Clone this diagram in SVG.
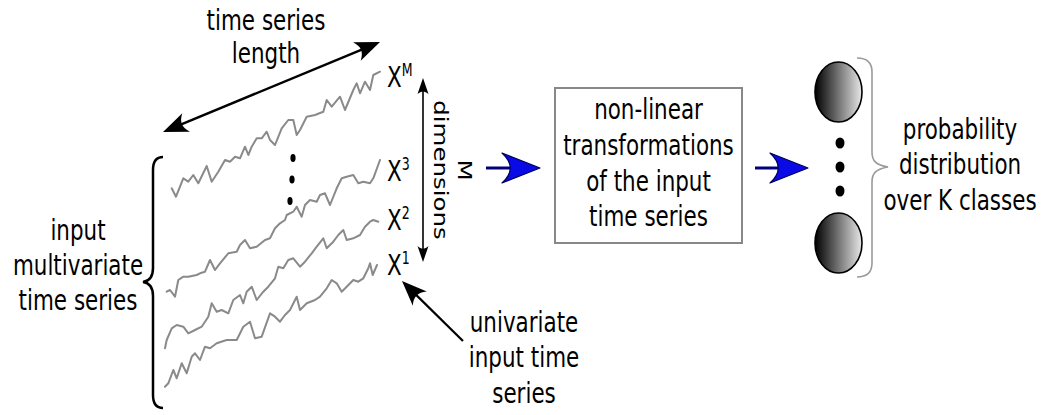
<svg xmlns="http://www.w3.org/2000/svg" width="1044" height="415" viewBox="0 0 1044 415">
<style>
.t{font-family:"DejaVu Sans","Noto Sans",sans-serif;font-size:29px;fill:#000;text-anchor:middle}
.xl{font-family:"DejaVu Sans","Noto Sans",sans-serif;font-size:29px;fill:#000}
.sup{font-size:17px}
.rt{font-family:"DejaVu Sans","Noto Sans",sans-serif;font-size:24.5px;fill:#000;text-anchor:middle}
.ser{fill:none;stroke:#8a8a8a;stroke-width:2;stroke-linejoin:round;stroke-linecap:round}
.blk{fill:none;stroke:#000;stroke-width:2.5}
.blue{fill:none;stroke:#00007a;stroke-width:3}
</style>
<defs>
<marker id="ah" markerUnits="userSpaceOnUse" orient="auto-start-reverse" overflow="visible" refX="0" refY="0" markerWidth="1" markerHeight="1">
<path d="M8,0 L-17,-10 C-11,-3 -11,3 -17,10 Z" fill="#000"/>
</marker>
<marker id="ahs" markerUnits="userSpaceOnUse" orient="auto-start-reverse" overflow="visible" refX="0" refY="0" markerWidth="1" markerHeight="1">
<path d="M5,0 L-11,-5.5 C-7.5,-1.5 -7.5,1.5 -11,5.5 Z" fill="#000"/>
</marker>
<marker id="bh" markerUnits="userSpaceOnUse" orient="auto" overflow="visible" refX="0" refY="0" markerWidth="1" markerHeight="1">
<path d="M10,0 L-28,-15 C-17,-5 -17,5 -28,15 Z" fill="#0a0ae6" stroke="#00005a" stroke-width="1.2" stroke-linejoin="round"/>
</marker>
<linearGradient id="g" x1="0" y1="0" x2="1" y2="0">
<stop offset="0" stop-color="#000"/>
<stop offset="1" stop-color="#e8e8e8"/>
</linearGradient>
</defs>

<g id="input-series">
<polyline class="ser" points="171.7,188.3 176,196.7 183.3,178.3 188.3,181.7 193.3,175 198.3,183.3 206.7,166 211.7,181.7 218.3,171.7 225,160 230,161.7 235,156.7 240,158.3 245,146.7 248.3,155 251.7,146.7 256.7,138.3 261.7,138.3 266.7,131.7 270,140 275,145 281.7,128.3 288.3,120 293.3,120 296.7,135 300,130 306.7,116.7 315,115 323.3,111.7 326.7,100 331.7,106.7 340,96.7 345,110 353.3,90 356.7,83.3 360,93.3 365,81.7 370,90 373.3,75 380,71.7"/>
<polyline class="ser" points="166.7,291.7 170,290 175,296.7 178.3,280 183.3,276.7 188.3,276.7 196.7,275 200,273.3 205,271.7 210,260 215,270 220,263.3 228.3,253.3 236.7,251.7 240,245 245,240 250,248.3 256.7,246.7 265,240 270,238.3 275,228.3 280,223.3 285,220 286.7,215 293.3,211.7 296.7,206.7 301.7,216.7 305,205 310,200 316.7,201.7 320,195 325,193.3 330,205 336.7,188.3 341.7,178.3 346.7,176.7 353.3,175 358.3,183.3 363.3,181.7 370,183.3 373.3,178.3 380,160"/>
<polyline class="ser" points="165,348.3 166.7,340 171.7,328.3 176.7,325 183.3,326.7 188.3,333.3 195,330 201.7,326.7 208.3,316.7 211.7,303.3 216.7,311.7 221.7,310 228.3,313.3 233.3,300 240,295 243.3,303.3 246.7,291.7 251.7,286.7 256.7,300 263.3,291.7 268.3,286.7 275,278.3 278.3,266.7 283.3,268.3 288.3,260 293.3,258.3 300,266.7 305,261.7 311.7,253.3 316.7,246.7 323.3,238.3 326.7,248.3 333.3,241.7 338.3,235 343.3,230 346.7,240 353.3,238.3 360,235 365,226.7 370,221.7 373.3,220 378.3,221.7"/>
<polyline class="ser" points="165,386.7 168.3,383.3 173.3,370 176.7,378.3 181.7,363.3 186.7,373.3 191.7,356.7 195,353.3 200,360 205,346.7 210,348.3 216.7,343.3 226.7,340 236.7,340 243.3,326.7 250,321.7 255,338.3 261.7,336.7 270,313.3 275,316.7 280,321.7 285,315 290,310 296.7,296.7 300,310 306.7,303.3 315,300 320,296.7 326.7,288.3 331.7,280 336.7,283.3 341.7,291.7 346.7,286.7 353.3,280 358.3,281.7 363.3,278.3 368.3,268.3 370,263.3 372.7,275 377,265"/>
<ellipse cx="293" cy="158" rx="2.6" ry="4" fill="#000"/>
<ellipse cx="292" cy="179.5" rx="2.6" ry="4" fill="#000"/>
<ellipse cx="290" cy="201" rx="2.6" ry="4" fill="#000"/>
<path class="blk" d="M163,157 C156,157 153,161 153,170 L153,268 C153,276 150,281 143,282 C150,283 153,288 153,296 L153,395 C153,404 156,408 163,408"/>
</g>

<g id="x-labels">
<text class="xl" transform="translate(387,87) scale(0.74,1)">X<tspan class="sup" dy="-11">M</tspan></text>
<text class="xl" transform="translate(387,181) scale(0.74,1)">X<tspan class="sup" dy="-11">3</tspan></text>
<text class="xl" transform="translate(387,230) scale(0.74,1)">X<tspan class="sup" dy="-11">2</tspan></text>
<text class="xl" transform="translate(387,275) scale(0.74,1)">X<tspan class="sup" dy="-11">1</tspan></text>
</g>

<g id="label-length">
<text class="t" transform="translate(266,30) scale(0.74,1)"><tspan x="0">time series</tspan><tspan x="0" dy="33">length</tspan></text>
</g>

<g id="label-dimensions">
<text class="rt" transform="translate(458,170) rotate(90) scale(1,0.78)">M</text>
<text class="rt" transform="translate(434,170) rotate(90) scale(1,0.78)">dimensions</text>
</g>

<g id="label-input">
<text class="t" transform="translate(78,240) scale(0.74,1)"><tspan x="0">input</tspan><tspan x="0" dy="35">multivariate</tspan><tspan x="0" dy="35">time series</tspan></text>
</g>

<g id="label-univariate">
<text class="t" transform="translate(524,332) scale(0.74,1)"><tspan x="0">univariate</tspan><tspan x="0" dy="35.5">input time</tspan><tspan x="0" dy="35.5">series</tspan></text>
</g>

<g id="transform-box">
<rect x="555" y="88" width="187" height="155" fill="#fff" stroke="#888" stroke-width="2"/>
<text class="t" transform="translate(648.5,119) scale(0.74,1)"><tspan x="0">non-linear</tspan><tspan x="0" dy="36">transformations</tspan><tspan x="0" dy="36">of the input</tspan><tspan x="0" dy="35">time series</tspan></text>
</g>

<g id="output">
<ellipse cx="838.5" cy="92" rx="23.5" ry="30" fill="url(#g)" stroke="#000" stroke-width="1.6"/>
<ellipse cx="838.5" cy="243" rx="23.5" ry="30" fill="url(#g)" stroke="#000" stroke-width="1.6"/>
<ellipse cx="840" cy="143" rx="4.5" ry="5.5" fill="#000"/>
<ellipse cx="840" cy="167" rx="4.5" ry="5.5" fill="#000"/>
<ellipse cx="840" cy="191" rx="4.5" ry="5.5" fill="#000"/>
<path d="M857,58 C866,58 872,62 872,72 L872,152 C872,161 876,165 888,167 C876,169 872,173 872,182 L872,263 C872,273 866,277 857,277" fill="none" stroke="#9a9a9a" stroke-width="1.6"/>
<text class="t" transform="translate(960,139) scale(0.74,1)"><tspan x="0">probability</tspan><tspan x="0" dy="35">distribution</tspan><tspan x="0" dy="36">over K classes</tspan></text>
</g>

<g id="connectors">
<line class="blk" x1="170.4" y1="128.9" x2="372.6" y2="45.1" marker-start="url(#ah)" marker-end="url(#ah)"/>
<line x1="423" y1="83" x2="423" y2="257" stroke="#000" stroke-width="1.6" marker-start="url(#ahs)" marker-end="url(#ahs)"/>
<line x1="463" y1="341" x2="407.7" y2="286.6" stroke="#000" stroke-width="2.2" marker-end="url(#ah)"/>
<line class="blue" x1="486" y1="168" x2="530" y2="168" marker-end="url(#bh)"/>
<line class="blue" x1="755" y1="168" x2="798" y2="168" marker-end="url(#bh)"/>
</g>
</svg>
